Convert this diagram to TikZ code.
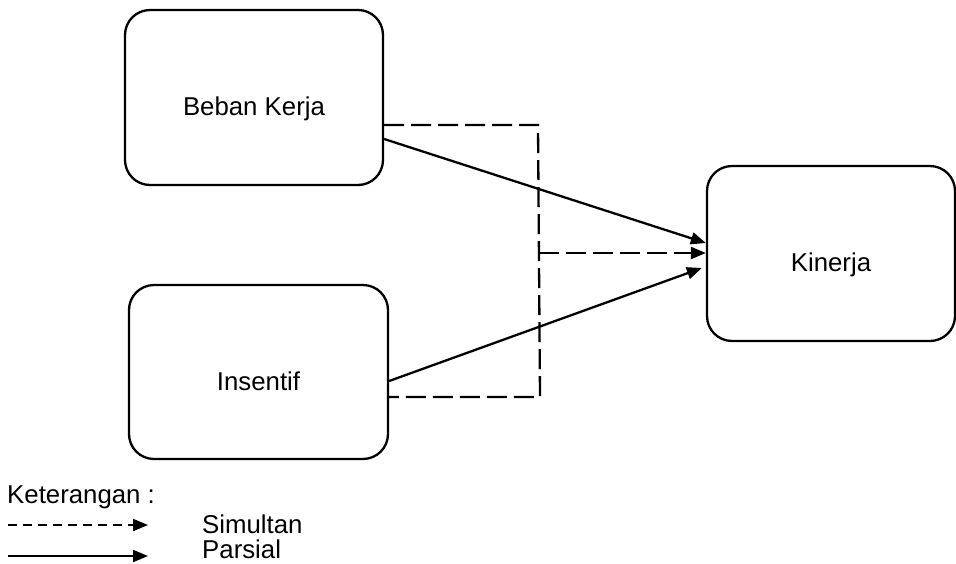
\documentclass[tikz,border=0pt]{standalone}
\usepackage{fontspec}
\setmainfont{Liberation Sans}
\usetikzlibrary{arrows.meta}
\begin{document}
\begin{tikzpicture}[x=1pt,y=-1pt,
  box/.style={draw,line width=2.3pt,rounded corners=25pt,inner sep=0pt,
    text height=36pt,text depth=0pt,font=\fontsize{25.8}{30}\selectfont},
  simultan/.style={line width=2.3pt,dash pattern=on 20pt off 7pt},
  parsial/.style={line width=2.3pt},
  tip/.style={-{Triangle[length=15pt,width=12pt]}},
  legtxt/.style={anchor=base west,inner sep=0pt,font=\fontsize{25.8}{30}\selectfont}]
\useasboundingbox (0,0) rectangle (956,563);
\node[box,minimum width=258pt,minimum height=175pt] (bk) at (254,97.5) {Beban Kerja};
\node[box,minimum width=259pt,minimum height=174pt] (ins) at (258.5,372) {Insentif};
\node[box,minimum width=248pt,minimum height=175pt] (kin) at (831,253.5) {Kinerja};
% dashed (simultan) connectors
\coordinate (c1) at (538,125);
\coordinate (c2) at (540,397);
\coordinate (c3) at (539,253);
\draw[simultan] (bk.east |- 0,125) -- (c1) -- (c2) -- (ins.east |- 0,397);
\draw[simultan,tip] (c3) -- (kin.west |- 0,253);
% solid (parsial) connectors
\draw[parsial,tip] (bk.east |- 0,139) -- (kin.west |- 0,243);
\draw[parsial,tip] (ins.east |- 0,381) -- ([xshift=-4pt]kin.west |- 0,268);
% legend
\node[legtxt] (ket) at (7,503) {Keterangan :};
\coordinate (l1a) at (8,525);
\coordinate (l1b) at (148,525);
\coordinate (l2a) at (8,556);
\coordinate (l2b) at (148,556);
\draw[line width=2pt,dash pattern=on 9pt off 6pt,tip] (l1a) -- (l1b);
\draw[line width=2pt,tip] (l2a) -- (l2b);
\node[legtxt] (sim) at (202,533) {Simultan};
\node[legtxt] (par) at (202,558) {Parsial};
\end{tikzpicture}
\end{document}
